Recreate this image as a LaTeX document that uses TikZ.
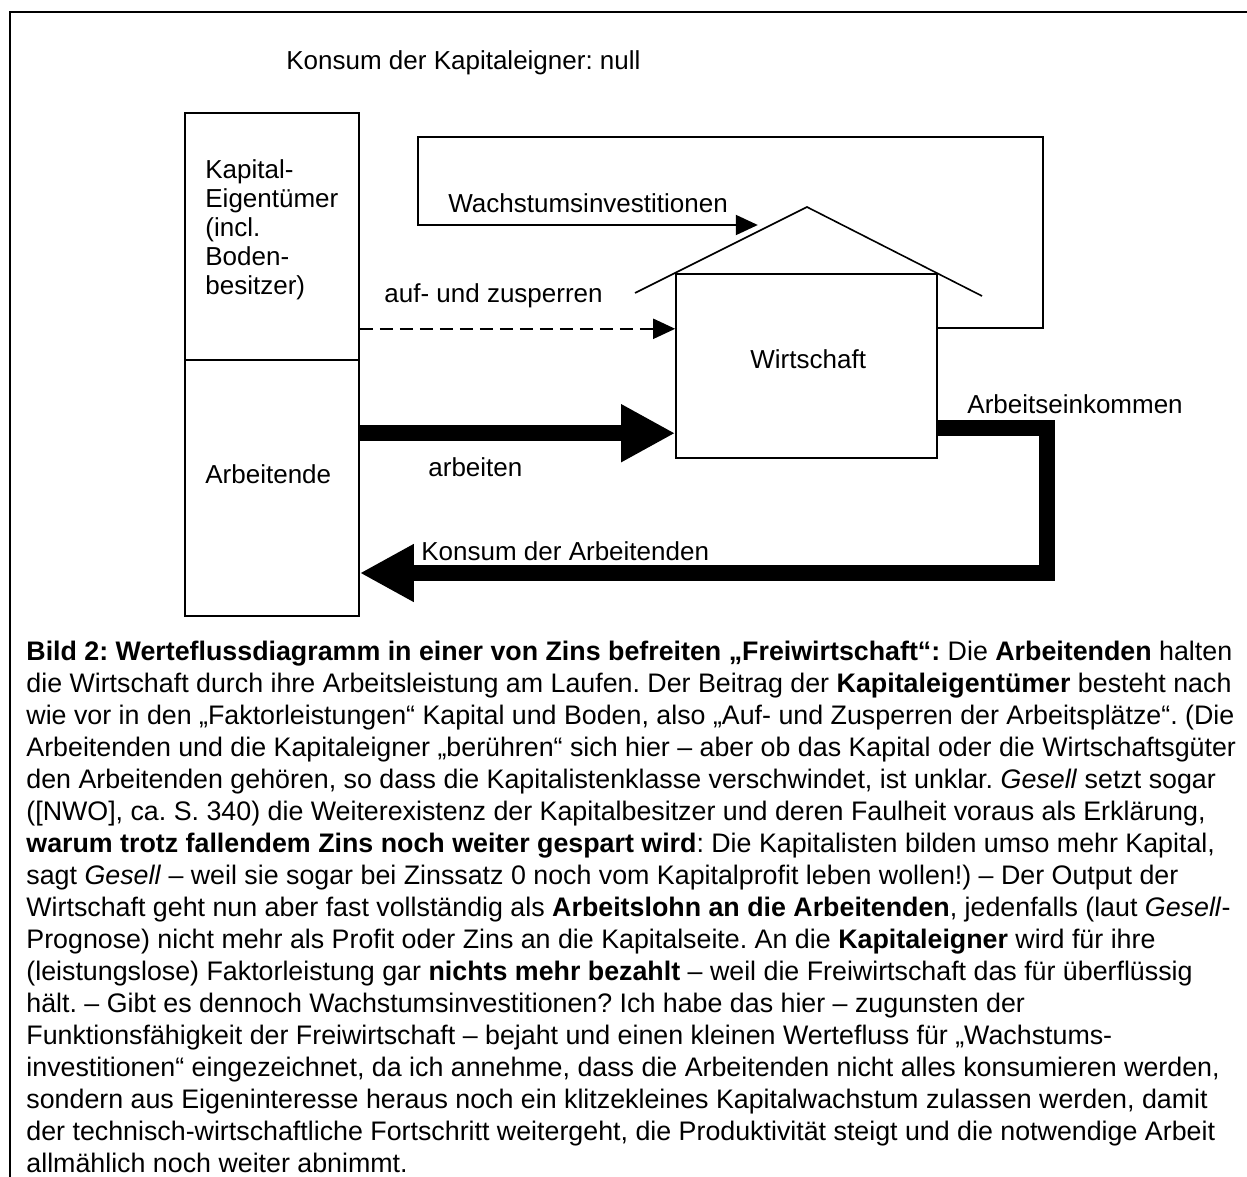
\documentclass[tikz,border=0pt]{standalone}
\usepackage{fontspec}
\setmainfont{Liberation Sans}
\frenchspacing
\usetikzlibrary{arrows.meta}
\usetikzlibrary{positioning}
\tikzset{box/.style = {draw, line width=0.8pt, inner sep=0}}
\tikzset{lbl/.style = {inner sep=0, anchor=base west, font=\fontsize{13}{14.5}\selectfont}}
\tikzset{flow/.style = {line width=8pt, -{Triangle[length=27pt, width=27pt]}}}
\tikzset{thinflow/.style = {line width=1pt, -{Triangle[length=11pt, width=10pt]}}}
\tikzset{dashflow/.style = {thinflow, dash pattern=on 6.5pt off 3.5pt}}

\begin{document}
\begin{tikzpicture}[x=0.5pt, y=-0.5pt]
      \useasboundingbox (0,0) rectangle (1247,1177);
      \draw [line width=1pt] (10,1190) |- (1260,12);

      \node [lbl] (kkonsum) at (286,70) {Konsum der Kapitaleigner: null};

      % boxes
      \node [box, minimum width=87pt, minimum height=123.5pt] (kapital) at (272,236.5) {};
      \node [box, minimum width=87pt, minimum height=128pt] (arbeitende) at (272,488) {};
      \node [box, minimum width=130.5pt, minimum height=92pt] (wirtschaft) at (806.5,366) {};
      \draw [line width=0.8pt] (635,293) -- (807,207) -- (982,296);

      \node [lbl, anchor=north west, align=left] (kapitaltxt) at (205,159) {Kapital-\\Eigentümer\\(incl.\\Boden-\\besitzer)};
      \node [lbl] (arbeitendetxt) at (205,483) {Arbeitende};
      \node [lbl] (wirtschafttxt) at (750,368) {Wirtschaft};

      % flows
      \draw [thinflow] ([yshift=19pt]wirtschaft.east) -- ++(105,0) -- ++(0,-191) -- ++(-625,0) -- ++(0,88) -- ++(340,0);
      \node [lbl] (wachstum) at (448,212) {Wachstumsinvestitionen};

      \draw [dashflow] ([yshift=16pt]kapital.south east) -- ([yshift=16pt]kapital.south east -| wirtschaft.west);
      \node [lbl] (sperren) at (384,302) {auf- und zusperren};

      \draw [flow] ([yshift=-37pt]arbeitende.north east) -- ([yshift=-37pt]arbeitende.north east -| wirtschaft.west);
      \node [lbl] (arbeiten) at (428,476) {arbeiten};

      \draw [flow] ([yshift=-31pt]wirtschaft.east) -- ++(109,0) |- ([yshift=-42.5pt]arbeitende.east);
      \node [lbl] (einkommen) at (967,413) {Arbeitseinkommen};
      \node [lbl] (akonsum) at (421,560) {Konsum der Arbeitenden};

      \node [anchor=north west, inner sep=0, align=left, font=\fontsize{13.4}{16}\selectfont] (caption) at (26,641) {%
\textbf{Bild 2: Werteflussdiagramm in einer von Zins befreiten „Freiwirtschaft“:} Die \textbf{Arbeitenden} halten\\
die Wirtschaft durch ihre Arbeitsleistung am Laufen. Der Beitrag der \textbf{Kapitaleigentümer} besteht nach\\
wie vor in den „Faktorleistungen“ Kapital und Boden, also „Auf- und Zusperren der Arbeitsplätze“. (Die\\
Arbeitenden und die Kapitaleigner „berühren“ sich hier – aber ob das Kapital oder die Wirtschaftsgüter\\
den Arbeitenden gehören, so dass die Kapitalistenklasse verschwindet, ist unklar. \textit{Gesell} setzt sogar\\
([NWO], ca. S. 340) die Weiterexistenz der Kapitalbesitzer und deren Faulheit voraus als Erklärung,\\
\textbf{warum trotz fallendem Zins noch weiter gespart wird}: Die Kapitalisten bilden umso mehr Kapital,\\
sagt \textit{Gesell} – weil sie sogar bei Zinssatz 0 noch vom Kapitalprofit leben wollen!) – Der Output der\\
Wirtschaft geht nun aber fast vollständig als \textbf{Arbeitslohn an die Arbeitenden}, jedenfalls (laut \textit{Gesell}-\\
Prognose) nicht mehr als Profit oder Zins an die Kapitalseite. An die \textbf{Kapitaleigner} wird für ihre\\
(leistungslose) Faktorleistung gar \textbf{nichts mehr bezahlt} – weil die Freiwirtschaft das für überflüssig\\
hält. – Gibt es dennoch Wachstumsinvestitionen? Ich habe das hier – zugunsten der\\
Funktionsfähigkeit der Freiwirtschaft – bejaht und einen kleinen Wertefluss für „Wachstums-\\
investitionen“ eingezeichnet, da ich annehme, dass die Arbeitenden nicht alles konsumieren werden,\\
sondern aus Eigeninteresse heraus noch ein klitzekleines Kapitalwachstum zulassen werden, damit\\
der technisch-wirtschaftliche Fortschritt weitergeht, die Produktivität steigt und die notwendige Arbeit\\
allmählich noch weiter abnimmt.};
\end{tikzpicture}
\end{document}
